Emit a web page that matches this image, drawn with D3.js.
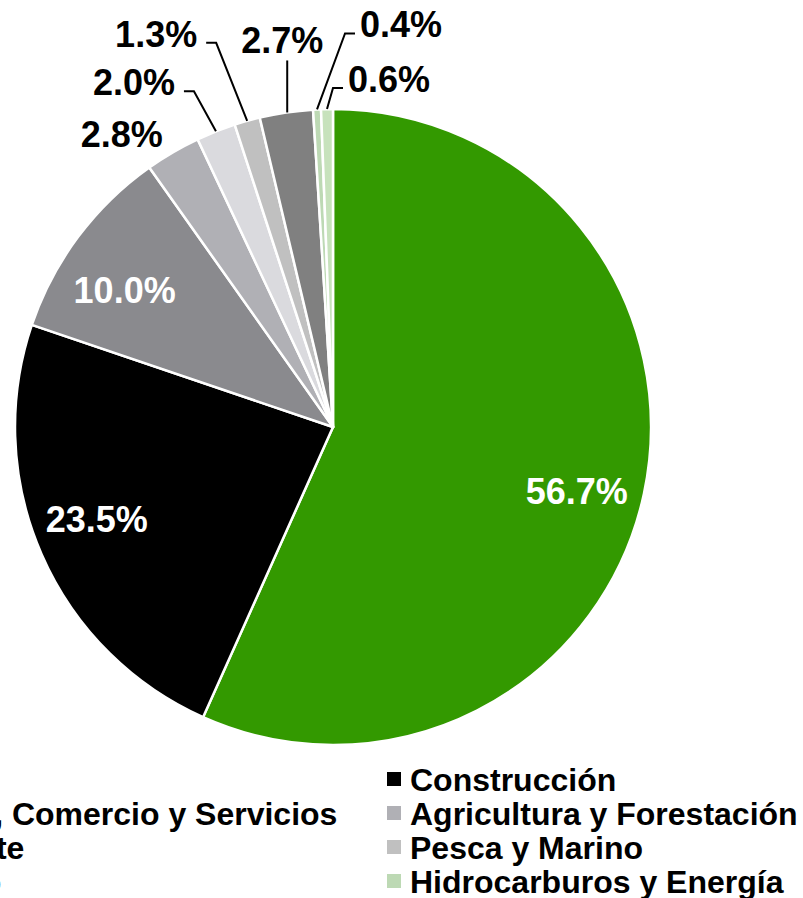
<!DOCTYPE html>
<html>
<head>
<meta charset="utf-8">
<script src="https://cdn.jsdelivr.net/npm/d3@7/dist/d3.min.js"></script>
<style>
  body { margin: 0; background: #fff; }
  svg { display: block; font-family: "Liberation Sans", Arial, sans-serif; font-weight: bold; }
</style>
</head>
<body>
<div id="chart"></div>
<script>
// sectors, clockwise from 12 o'clock
const categories = ["Minería", "Construcción", "Industria, Comercio y Servicios", "Agricultura y Forestación",
    "Transporte", "Pesca y Marino", "Portuario", "Hidrocarburos y Energía", "Otros"];
const shares = [56.7, 23.5, 10.0, 2.8, 2.0, 1.3, 2.7, 0.4, 0.6];
const colors = ["#339900", "#000000", "#8a8a8e", "#b0b0b5", "#dadade", "#c0c0c0", "#808080", "#bdd9b4", "#c7e2bc"];

// where Excel put each data label (offsets in px)
const labelPlace = [
    { pos: "in", dx: -2, dy: 12 },
    { pos: "in", dx: -6, dy: -8 },
    { pos: "in", dx: -7, dy: 13 },
    { pos: "out", anchor: "middle", dx: -51, dy: -5, leader: "none" },
    { pos: "out", anchor: "end", dx: -41, dy: -36, leader: "left" },
    { pos: "out", anchor: "end", dx: -50, dy: -74, leader: "left" },
    { pos: "out", anchor: "middle", dx: -4, dy: -59, leader: "down" },
    { pos: "out", anchor: "start", dx: 43, dy: -72, leader: "right" },
    { pos: "out", anchor: "start", dx: 21, dy: -17, leader: "right" }
];

const W = 803, H = 898;
const cx = 333, cy = 427, R = 318;

const data = categories.map((c, i) => ({ name: c, value: shares[i], color: colors[i], place: labelPlace[i] }));

const svg = d3.select("#chart").append("svg")
    .attr("width", W)
    .attr("height", H);

const g = svg.append("g").attr("transform", "translate(" + cx + "," + cy + ")");

const pie = d3.pie().sort(null).value(d => d.value).startAngle(0).endAngle(2 * Math.PI);
const arcs = pie(data);
const arc = d3.arc().innerRadius(0).outerRadius(R);
const labelArc = d3.arc().innerRadius(R * 0.79).outerRadius(R * 0.79);

g.selectAll("path.slice")
    .data(arcs)
    .enter()
    .append("path")
    .attr("class", "slice")
    .attr("d", arc)
    .attr("fill", d => d.data.color)
    .attr("stroke", "#fff")
    .attr("stroke-width", 2.5)
    .attr("stroke-linejoin", "round");

const fmt = v => v.toFixed(1) + "%";

// inside labels
arcs.filter(d => d.data.place.pos === "in").forEach(d => {
    const c = labelArc.centroid(d);
    g.append("text")
        .attr("x", c[0] + d.data.place.dx)
        .attr("y", c[1] + d.data.place.dy + 13)
        .attr("text-anchor", "middle")
        .attr("fill", "#fff")
        .style("font-size", "36px")
        .text(fmt(d.data.value));
});

// outside labels + leader lines
arcs.filter(d => d.data.place.pos === "out").forEach(d => {
    const p = d.data.place;
    const mid = (d.startAngle + d.endAngle) / 2;
    const ax = R * Math.sin(mid), ay = -R * Math.cos(mid);
    const tx = ax + p.dx, ty = ay + p.dy;
    g.append("text")
        .attr("x", tx)
        .attr("y", ty)
        .attr("text-anchor", p.anchor)
        .attr("fill", "#000")
        .style("font-size", "36px")
        .text(fmt(d.data.value));
    let pts = null;
    if (p.leader === "left") {
        pts = [[tx + 9, ty - 4], [tx + 19, ty - 4], [ax, ay]];
    } else if (p.leader === "right") {
        pts = [[tx - 5, ty - 4], [tx - 15, ty - 4], [ax, ay]];
    } else if (p.leader === "down") {
        pts = [[ax + 1, ty + 7], [ax + 1, ay]];
    }
    if (pts) {
        g.append("path")
            .attr("d", d3.line()(pts))
            .attr("fill", "none")
            .attr("stroke", "#000")
            .attr("stroke-width", 2);
    }
});

// legend, two columns filled row by row
const legendX = 387, legendY = 772, colW = 551, rowH = 34;
const leg = svg.append("g");
data.forEach((d, i) => {
    const col = i % 2, row = Math.floor(i / 2);
    const x = legendX - (1 - col) * colW;
    const y = legendY + row * rowH;
    leg.append("rect")
        .attr("x", x)
        .attr("y", y)
        .attr("width", 14)
        .attr("height", 14)
        .attr("fill", d.color);
    leg.append("text")
        .attr("x", x + 23)
        .attr("y", y + 19)
        .attr("fill", "#000")
        .style("font-size", "32px")
        .text(d.name);
});
</script>
</body>
</html>
